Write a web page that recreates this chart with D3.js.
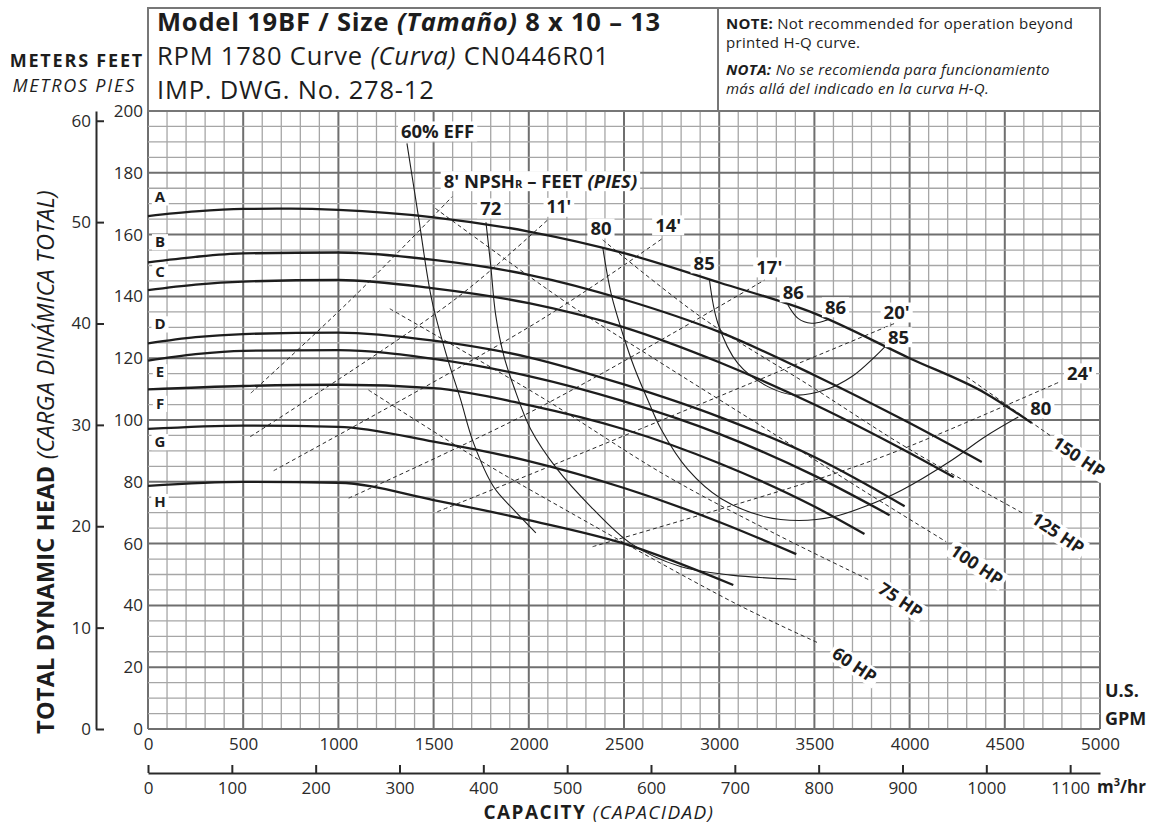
<!DOCTYPE html>
<html>
<head>
<meta charset="utf-8">
<script src="https://cdn.jsdelivr.net/npm/d3@7"></script>
<style>
  body { margin: 0; background: #fff; }
  svg { display: block; font-family: "Open Sans", "Noto Sans", sans-serif; }
</style>
</head>
<body>
<div id="chart"></div>
<script>
// tick labels
const gpmTicks = [0, 500, 1000, 1500, 2000, 2500, 3000, 3500, 4000, 4500, 5000];
const m3hTicks = [0, 100, 200, 300, 400, 500, 600, 700, 800, 900, 1000, 1100];
const feetTicks = [0, 20, 40, 60, 80, 100, 120, 140, 160, 180, 200];
const meterTicks = [0, 10, 20, 30, 40, 50, 60];

// impeller head curves  [GPM, feet]
const impellers = ["A", "B", "C", "D", "E", "F", "G", "H"];
const headA = [[0,166],[250,167.5],[500,168.3],[750,168.4],[1000,168],[1500,165.6],[2000,161],[2500,154],[3000,144.5],[3500,134.5],[4000,120],[4400,108.6],[4642,99]];
const headB = [[0,151],[250,152.8],[500,153.9],[1000,154.2],[1500,151.8],[2000,147],[2500,139],[3000,128.5],[3500,114.5],[4000,99],[4379,86.4]];
const headC = [[0,142],[250,143.8],[500,144.8],[1000,145.3],[1500,142.6],[2000,137.8],[2500,130],[3000,118.7],[3500,105],[4000,89.3],[4232,81.5]];
const headD = [[0,124.8],[250,126.8],[500,127.8],[1000,128.3],[1500,125.7],[2000,120.3],[2500,111.5],[3000,101],[3500,88],[3974,72.1]];
const headE = [[0,119.2],[250,121.3],[500,122.4],[1000,122.6],[1500,119.8],[2000,114.2],[2500,106],[3000,95.5],[3500,82],[3895,69.2]];
const headF = [[0,109.9],[500,111],[1000,111.4],[1500,110.3],[2000,104.8],[2500,97],[3000,86],[3500,72],[3763,63.1]];
const headG = [[0,97.1],[500,98.2],[1000,97.8],[1500,93],[2000,86.7],[2500,78],[3000,67],[3405,56.6]];
const headH = [[0,78.7],[500,80],[1000,79.7],[1500,74.1],[2000,67.6],[2500,60],[3074,46.6]];
const heads = [headA, headB, headC, headD, headE, headF, headG, headH];
// where the impeller letters sit (feet at the left edge)
const letterFeet = [172.2, 157.7, 148, 131.1, 115.6, 105.4, 93, 73.6];

// efficiency curves
const eff60 = [[1360,189.5],[1420,166],[1490,139],[1570,120.5],[1640,107],[1710,92.5],[1815,78.4],[1920,71],[2037,63.5]];
const eff72 = [[1775,164],[1800,150],[1826,134],[1870,120.5],[1920,111],[2010,97],[2150,84],[2325,72],[2537,60],[2800,52.5],[3063,49.8],[3405,48.4]];
const eff80 = [[2388,156],[2432,141],[2493,128],[2554,117],[2625,106.5],[2695,97],[2835,84],[3011,74.5],[3240,68.7],[3420,67.5],[3600,68.7],[3765,72],[3958,77.3],[4221,87],[4396,94.6],[4571,101]];
const eff85 = [[2949,145.3],[2993,131.3],[3098,118.3],[3256,110.8],[3396,108.1],[3554,109.7],[3695,114],[3870,123.7]];
const eff86 = [[3361,137.2],[3414,132.9],[3484,131.3],[3554,132.1],[3575,132.6]];

// NPSHr lines (feet)
const npsh8 = [[540,108.7],[1063,138.8],[1598,172.3]];
const npsh11 = [[537,94.6],[1607,138.8],[2107,165.2]];
const npsh14 = [[660,83.6],[2063,132.4],[2703,158.8]];
const npsh17 = [[1054,74.7],[2063,104.3],[3238,145.3]];
const npsh20 = [[1519,70.3],[2063,83.8],[3923,131.3]];
const npsh24 = [[2335,59],[3505,80.6],[3958,90.5],[4791,112.4]];

// horsepower lines
const hp60 = [[1158,109.7],[1747,86.8],[2116,73.6],[3083,40.7],[3526,27.7]];
const hp75 = [[1270,136],[2063,107.5],[2721,82],[3300,63],[3789,48.2]];
const hp100 = [[1509,168.5],[2203,137.8],[2642,120.5],[3300,95],[3800,75.5],[4192,60.6]];
const hp125 = [[2388,158.3],[2905,133.3],[3484,110.8],[4000,90.5],[4596,69.8]];
const hp150 = [[4300,114],[4747,94.6]];

const width = 1151, height = 827;
const ink = "#1d1d1d";
const svg = d3.select("#chart").append("svg")
  .attr("width", width)
  .attr("height", height);

const x = d3.scaleLinear().domain([0, 5000]).range([148, 1100]);
const y = d3.scaleLinear().domain([0, 200]).range([729, 111]);
const xm3 = d3.scaleLinear().domain([0, 5000 / 4.4029]).range([148, 1100]);
const ym = d3.scaleLinear().domain([0, 200 / 3.2808]).range([729, 111]);

// grid
const grid = svg.append("g");
x.ticks(50).forEach(v => {
  const major = v % 500 === 0;
  grid.append("line")
    .attr("x1", x(v)).attr("x2", x(v)).attr("y1", y(0)).attr("y2", y(200))
    .attr("stroke", major ? "#6f6f6f" : "#a6a6a6")
    .attr("stroke-width", major ? 2 : 1.3);
});
y.ticks(40).forEach(v => {
  const major = v % 20 === 0;
  grid.append("line")
    .attr("x1", x(0)).attr("x2", x(5000)).attr("y1", y(v)).attr("y2", y(v))
    .attr("stroke", major ? "#6f6f6f" : "#a6a6a6")
    .attr("stroke-width", major ? 2 : 1.3);
});

// header box
svg.append("rect")
  .attr("x", 148).attr("y", 8).attr("width", 952).attr("height", 103)
  .attr("fill", "none").attr("stroke", "#777").attr("stroke-width", 2);
svg.append("line")
  .attr("x1", 718).attr("x2", 718).attr("y1", 8).attr("y2", 111)
  .attr("stroke", "#777").attr("stroke-width", 2);

const h1 = svg.append("text").attr("x", 157).attr("y", 31).attr("font-size", 25.5)
  .attr("letter-spacing", 0.8).attr("font-weight", "bold").attr("fill", ink);
h1.append("tspan").text("Model 19BF / Size ");
h1.append("tspan").attr("font-style", "italic").text("(Tamaño)");
h1.append("tspan").text(" 8 x 10 – 13");
const h2 = svg.append("text").attr("x", 157).attr("y", 65).attr("font-size", 25.5)
  .attr("letter-spacing", 0.8).attr("fill", ink);
h2.append("tspan").text("RPM 1780 Curve ");
h2.append("tspan").attr("font-style", "italic").text("(Curva)");
h2.append("tspan").text(" CN0446R01");
svg.append("text").attr("x", 157).attr("y", 99).attr("font-size", 25.5)
  .attr("letter-spacing", 0.8).attr("fill", ink)
  .text("IMP. DWG. No. 278-12");

const noteLines = [
  [{ t: "NOTE:", b: true }, { t: " Not recommended for operation beyond" }],
  [{ t: "printed H-Q curve." }],
  [{ t: "NOTA:", b: true, i: true }, { t: " No se recomienda para funcionamiento", i: true }],
  [{ t: "más allá del indicado en la curva H-Q.", i: true }]
];
[28.5, 48, 75, 94].forEach((yy, k) => {
  const t = svg.append("text").attr("x", 726).attr("y", yy).attr("font-size", 15)
    .attr("letter-spacing", 0.3).attr("fill", ink);
  noteLines[k].forEach(p => {
    t.append("tspan").text(p.t)
      .attr("font-weight", p.b ? "bold" : null)
      .attr("font-style", p.i ? "italic" : null);
  });
});

// units at top left
svg.append("text").attr("x", 144).attr("y", 67).attr("text-anchor", "end")
  .attr("font-size", 18).attr("letter-spacing", 1.8)
  .attr("font-weight", "bold").attr("fill", ink).text("METERS FEET");
svg.append("text").attr("x", 136).attr("y", 92).attr("text-anchor", "end")
  .attr("font-size", 18).attr("letter-spacing", 1.8)
  .attr("font-style", "italic").attr("fill", ink).text("METROS PIES");

const fmt = d3.format("d");

// feet axis labels
svg.append("g")
  .attr("transform", `translate(${x(0)},0)`)
  .call(d3.axisLeft(y).tickValues(feetTicks).tickFormat(fmt).tickSize(0).tickPadding(5))
  .call(g => g.select(".domain").remove())
  .selectAll("text").attr("font-size", 17).attr("fill", "#2a2a2a").attr("font-family", "Open Sans, sans-serif");

// meters axis
const mAxis = svg.append("g")
  .attr("transform", "translate(96,0)")
  .call(d3.axisLeft(ym).tickValues(meterTicks).tickFormat(fmt).tickSizeInner(-8).tickSizeOuter(0).tickPadding(5));
mAxis.select(".domain").attr("stroke", "#2a2a2a").attr("stroke-width", 2);
mAxis.selectAll("line").attr("stroke", "#2a2a2a").attr("stroke-width", 2);
mAxis.selectAll("text").attr("font-size", 17).attr("fill", "#2a2a2a").attr("font-family", "Open Sans, sans-serif");

// GPM axis labels
svg.append("g")
  .attr("transform", `translate(0,${y(0)})`)
  .call(d3.axisBottom(x).tickValues(gpmTicks).tickFormat(fmt).tickSize(0).tickPadding(9))
  .call(g => g.select(".domain").remove())
  .selectAll("text").attr("font-size", 17).attr("fill", "#2a2a2a").attr("font-family", "Open Sans, sans-serif");

// m3/hr axis
const m3Axis = svg.append("g")
  .attr("transform", "translate(0,773)")
  .call(d3.axisBottom(xm3).tickValues(m3hTicks).tickFormat(fmt).tickSizeInner(-8).tickSizeOuter(0).tickPadding(9));
m3Axis.select(".domain").attr("stroke", "#2a2a2a").attr("stroke-width", 2);
m3Axis.selectAll("line").attr("stroke", "#2a2a2a").attr("stroke-width", 2);
m3Axis.selectAll("text").attr("font-size", 17).attr("fill", "#2a2a2a").attr("font-family", "Open Sans, sans-serif");

const m3 = svg.append("text").attr("x", 1097).attr("y", 793).attr("font-size", 17)
  .attr("font-weight", "bold").attr("fill", ink);
m3.append("tspan").text("m");
m3.append("tspan").attr("font-size", 11).attr("dy", -7).text("3");
m3.append("tspan").attr("dy", 7).text("/hr");

svg.append("text").attr("x", 1105).attr("y", 697).attr("font-size", 18)
  .attr("font-weight", "bold").attr("fill", ink).text("U.S.");
svg.append("text").attr("x", 1105).attr("y", 725).attr("font-size", 18)
  .attr("font-weight", "bold").attr("fill", ink).text("GPM");

const cap = svg.append("text").attr("x", 599).attr("y", 819).attr("text-anchor", "middle")
  .attr("font-size", 19).attr("letter-spacing", 1.4).attr("fill", ink);
cap.append("tspan").attr("font-weight", "bold").text("CAPACITY ");
cap.append("tspan").attr("font-style", "italic").text("(CAPACIDAD)");

const yt = svg.append("text").attr("transform", "translate(54,462) rotate(-90)")
  .attr("text-anchor", "middle").attr("font-size", 23.5).attr("letter-spacing", 0.2).attr("fill", ink);
yt.append("tspan").attr("font-weight", "bold").text("TOTAL DYNAMIC HEAD ");
yt.append("tspan").attr("font-style", "italic").text("(CARGA DINÁMICA TOTAL)");

// dashed NPSH and HP lines
const dashLine = d3.line().x(d => x(d[0])).y(d => y(d[1])).curve(d3.curveCatmullRom);
[npsh8, npsh11, npsh14, npsh17, npsh20, npsh24, hp60, hp75, hp100, hp125, hp150].forEach(pts => {
  svg.append("path").attr("d", dashLine(pts))
    .attr("fill", "none").attr("stroke", "#2a2a2a").attr("stroke-width", 1)
    .attr("stroke-dasharray", "4,3");
});

// efficiency curves
const smooth = d3.line().x(d => x(d[0])).y(d => y(d[1])).curve(d3.curveCatmullRom.alpha(0.5));
[eff60, eff72, eff80, eff85, eff86].forEach(pts => {
  svg.append("path").attr("d", smooth(pts))
    .attr("fill", "none").attr("stroke", ink).attr("stroke-width", 1.1);
});

// impeller curves
const headLine = d3.line().x(d => x(d[0])).y(d => y(d[1])).curve(d3.curveMonotoneX);
heads.forEach(pts => {
  svg.append("path").attr("d", headLine(pts))
    .attr("fill", "none").attr("stroke", ink).attr("stroke-width", 2.3);
});

// labels with white backing
function label(txt, gpm, ft, size, rot, anchor) {
  const g = svg.append("g")
    .attr("transform", `translate(${x(gpm)},${y(ft)}) rotate(${rot || 0})`);
  const t = g.append("text").attr("text-anchor", anchor || "middle").attr("dy", "0.36em")
    .attr("font-size", size).attr("font-weight", "bold").attr("fill", ink);
  if (Array.isArray(txt)) {
    txt.forEach(p => {
      const s = t.append("tspan").text(p.t);
      if (p.i) s.attr("font-style", "italic");
      if (p.sub) s.attr("font-size", size * 0.6);
    });
  } else t.text(txt);
  const b = t.node().getBBox();
  g.insert("rect", "text")
    .attr("x", b.x - 3).attr("y", b.y + size * 0.2)
    .attr("width", b.width + 6).attr("height", size * 1.08)
    .attr("fill", "#fff");
}

impellers.forEach((name, i) => label(name, 63, letterFeet[i], 15));

label("60% EFF", 1521, 193.5, 18.5);
label([{ t: "8' NPSH" }, { t: "R", sub: true }, { t: " – FEET " }, { t: "(PIES)", i: true }], 1553, 177.4, 18.5, 0, "start");
label("72", 1800, 168.6, 18.5);
label("11'", 2158, 168.9, 17.5);
label("80", 2379, 162.1, 18.5);
label("14'", 2732, 163.1, 18.5);
label("85", 2921, 150.8, 18.5);
label("17'", 3263, 149.5, 18.5);
label("86", 3389, 141.4, 18.5);
label("86", 3611, 136.6, 18.5);
label("20'", 3932, 134.9, 18.5);
label("85", 3942, 126.9, 18.5);
label("24'", 4895, 115.2, 18.5);
label("80", 4689, 103.9, 18.5);
label("150 HP", 4889, 88, 17.5, 34);
label("125 HP", 4779, 63.4, 17.5, 34);
label("100 HP", 4353, 53.1, 17.5, 34);
label("75 HP", 3953, 41.7, 17.5, 34);
label("60 HP", 3711, 20.7, 17.5, 34);
</script>
</body>
</html>
